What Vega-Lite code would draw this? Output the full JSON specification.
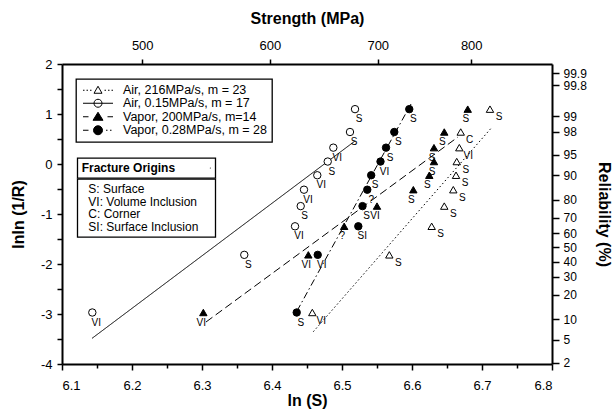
{
  "$schema": "https://vega.github.io/schema/vega-lite/v6.json",
  "width": 490,
  "height": 300,
  "autosize": "none",
  "padding": {"left": 62, "top": 64, "right": 62, "bottom": 47},
  "background": "white",
  "datasets": {
    "pts": [
      {"series": "Air, 216MPa/s, m = 23", "lnS": 6.7114, "lnln": 1.097, "origin": "S"},
      {"series": "Air, 216MPa/s, m = 23", "lnS": 6.6696, "lnln": 0.640, "origin": "C"},
      {"series": "Air, 216MPa/s, m = 23", "lnS": 6.6676, "lnln": 0.327, "origin": "VI"},
      {"series": "Air, 216MPa/s, m = 23", "lnS": 6.6639, "lnln": 0.049, "origin": "S"},
      {"series": "Air, 216MPa/s, m = 23", "lnS": 6.6629, "lnln": -0.225, "origin": "S"},
      {"series": "Air, 216MPa/s, m = 23", "lnS": 6.6590, "lnln": -0.514, "origin": "S"},
      {"series": "Air, 216MPa/s, m = 23", "lnS": 6.6461, "lnln": -0.842, "origin": "S"},
      {"series": "Air, 216MPa/s, m = 23", "lnS": 6.6281, "lnln": -1.246, "origin": "S"},
      {"series": "Air, 216MPa/s, m = 23", "lnS": 6.5676, "lnln": -1.817, "origin": "S"},
      {"series": "Air, 216MPa/s, m = 23", "lnS": 6.4576, "lnln": -2.970, "origin": "VI"},
      {"series": "Air, 0.15MPa/s, m = 17", "lnS": 6.5186, "lnln": 1.097, "origin": "S"},
      {"series": "Air, 0.15MPa/s, m = 17", "lnS": 6.5114, "lnln": 0.640, "origin": "S"},
      {"series": "Air, 0.15MPa/s, m = 17", "lnS": 6.4876, "lnln": 0.327, "origin": "VI"},
      {"series": "Air, 0.15MPa/s, m = 17", "lnS": 6.4796, "lnln": 0.049, "origin": "S"},
      {"series": "Air, 0.15MPa/s, m = 17", "lnS": 6.4647, "lnln": -0.225, "origin": "VI"},
      {"series": "Air, 0.15MPa/s, m = 17", "lnS": 6.4457, "lnln": -0.514, "origin": "VI"},
      {"series": "Air, 0.15MPa/s, m = 17", "lnS": 6.4410, "lnln": -0.842, "origin": "S"},
      {"series": "Air, 0.15MPa/s, m = 17", "lnS": 6.4329, "lnln": -1.246, "origin": "VI"},
      {"series": "Air, 0.15MPa/s, m = 17", "lnS": 6.3604, "lnln": -1.817, "origin": "S"},
      {"series": "Air, 0.15MPa/s, m = 17", "lnS": 6.1433, "lnln": -2.970, "origin": "VI"},
      {"series": "Vapor, 200MPa/s, m=14", "lnS": 6.6796, "lnln": 1.097, "origin": "S"},
      {"series": "Vapor, 200MPa/s, m=14", "lnS": 6.6461, "lnln": 0.640, "origin": "S"},
      {"series": "Vapor, 200MPa/s, m=14", "lnS": 6.6314, "lnln": 0.327, "origin": "S"},
      {"series": "Vapor, 200MPa/s, m=14", "lnS": 6.6314, "lnln": 0.049, "origin": "S"},
      {"series": "Vapor, 200MPa/s, m=14", "lnS": 6.6247, "lnln": -0.225, "origin": "S"},
      {"series": "Vapor, 200MPa/s, m=14", "lnS": 6.6019, "lnln": -0.514, "origin": "S"},
      {"series": "Vapor, 200MPa/s, m=14", "lnS": 6.5500, "lnln": -0.842, "origin": "VI"},
      {"series": "Vapor, 200MPa/s, m=14", "lnS": 6.5031, "lnln": -1.246, "origin": "?"},
      {"series": "Vapor, 200MPa/s, m=14", "lnS": 6.4519, "lnln": -1.817, "origin": "VI"},
      {"series": "Vapor, 200MPa/s, m=14", "lnS": 6.3019, "lnln": -2.970, "origin": "VI"},
      {"series": "Vapor, 0.28MPa/s, m = 28", "lnS": 6.5961, "lnln": 1.097, "origin": "S"},
      {"series": "Vapor, 0.28MPa/s, m = 28", "lnS": 6.5747, "lnln": 0.640, "origin": "S"},
      {"series": "Vapor, 0.28MPa/s, m = 28", "lnS": 6.5629, "lnln": 0.327, "origin": "S"},
      {"series": "Vapor, 0.28MPa/s, m = 28", "lnS": 6.5550, "lnln": 0.049, "origin": "VI"},
      {"series": "Vapor, 0.28MPa/s, m = 28", "lnS": 6.5417, "lnln": -0.225, "origin": "S"},
      {"series": "Vapor, 0.28MPa/s, m = 28", "lnS": 6.5361, "lnln": -0.514, "origin": "?"},
      {"series": "Vapor, 0.28MPa/s, m = 28", "lnS": 6.5293, "lnln": -0.842, "origin": "S"},
      {"series": "Vapor, 0.28MPa/s, m = 28", "lnS": 6.5233, "lnln": -1.246, "origin": "SI"},
      {"series": "Vapor, 0.28MPa/s, m = 28", "lnS": 6.4653, "lnln": -1.817, "origin": "VI"},
      {"series": "Vapor, 0.28MPa/s, m = 28", "lnS": 6.4353, "lnln": -2.970, "origin": "S"}
    ],
    "fits": [
      {"series": "Air, 216MPa/s, m = 23", "lnS": 6.4590, "lnln": -3.354},
      {"series": "Air, 216MPa/s, m = 23", "lnS": 6.7129, "lnln": 0.714},
      {"series": "Air, 0.15MPa/s, m = 17", "lnS": 6.1429, "lnln": -3.487},
      {"series": "Air, 0.15MPa/s, m = 17", "lnS": 6.5186, "lnln": 0.46},
      {"series": "Vapor, 200MPa/s, m=14", "lnS": 6.3057, "lnln": -3.16},
      {"series": "Vapor, 200MPa/s, m=14", "lnS": 6.6657, "lnln": 0.54},
      {"series": "Vapor, 0.28MPa/s, m = 28", "lnS": 6.4357, "lnln": -2.94},
      {"series": "Vapor, 0.28MPa/s, m = 28", "lnS": 6.5986, "lnln": 1.2}
    ]
  },
  "layer": [
    {
      "data": {"name": "fits"},
      "mark": {"type": "line", "color": "black", "strokeWidth": 1},
      "encoding": {
        "x": {
          "field": "lnS", "type": "quantitative",
          "scale": {"domain": [6.1, 6.8], "nice": false, "zero": false},
          "axis": {
            "orient": "top", "title": "Strength (MPa)",
            "values": [6.21461, 6.39693, 6.55108, 6.68461],
            "labelExpr": "format(exp(datum.value), '.0f')",
            "tickSize": 5, "labelPadding": 7, "titlePadding": 13
          }
        },
        "y": {
          "field": "lnln", "type": "quantitative",
          "scale": {"domain": [-4, 2], "nice": false, "zero": false},
          "axis": {
            "orient": "right", "title": "Reliability (%)", "titleAngle": 90,
            "values": [-3.9785, -3.5182, -3.1091, -2.6136, -2.2565, -1.9512, -1.666, -1.3808, -1.0755, -0.7184, -0.2229, 0.1862, 0.6465, 0.9534, 1.5749, 1.8136],
            "labelExpr": "format(100 * cumulativeNormal((datum.value + 1.666) / 1.126), '.3~r')",
            "labelOverlap": false, "labelFontSize": 12,
            "tickSize": 7, "labelPadding": 4, "titlePadding": 9
          }
        },
        "detail": {"field": "series"},
        "strokeDash": {
          "field": "series", "type": "nominal",
          "scale": {"range": [[1, 0], [1.5, 2.5], [7, 3, 1.5, 3], [8, 4]]},
          "legend": null
        }
      }
    },
    {
      "data": {"name": "pts"},
      "mark": {"type": "point", "stroke": "black", "strokeWidth": 1, "size": 0, "opacity": 0},
      "encoding": {
        "x": {"field": "lnS", "type": "quantitative", "scale": {"domain": [6.1, 6.8], "nice": false, "zero": false}, "axis": null},
        "y": {"field": "lnln", "type": "quantitative", "scale": {"domain": [-4, 2], "nice": false, "zero": false}, "axis": null},
        "shape": {
          "field": "series", "type": "nominal",
          "scale": {
            "domain": ["Air, 216MPa/s, m = 23", "Air, 0.15MPa/s, m = 17", "Vapor, 200MPa/s, m=14", "Vapor, 0.28MPa/s, m = 28"],
            "range": [
              "M-15,0h1.5M-11.5,0h1.5M-8,0h1.5M6.5,0h1.5M10,0h1.5M13.5,0h1.5M-4,3L4,3L0,-4Z",
              "M-15,0H15M-4,0A4 4 0 1 1 4,0A4 4 0 1 1 -4,0Z",
              "M-15,0H-9.5M9.5,0H15M-5,3.5L5,3.5L0,-4.5Z",
              "M-15,0H-9.5M8,0h1.5M12,0h1.5M-4.5,0A4.5 4.5 0 1 1 4.5,0A4.5 4.5 0 1 1 -4.5,0Z"
            ]
          },
          "legend": {
            "orient": "none", "legendX": 14, "legendY": 15, "title": null,
            "strokeColor": "black", "fillColor": "white", "padding": 5,
            "labelFont": "Liberation Sans", "labelFontSize": 12.5, "labelColor": "black",
            "symbolSize": 4, "symbolStrokeWidth": 1, "symbolOpacity": 1,
            "symbolOffset": 10.75, "labelOffset": 18.75, "rowPadding": -0.5,
            "labelExpr": "datum.label + '    '"
          }
        },
        "fill": {
          "field": "series", "type": "nominal",
          "scale": {
            "domain": ["Air, 216MPa/s, m = 23", "Air, 0.15MPa/s, m = 17", "Vapor, 200MPa/s, m=14", "Vapor, 0.28MPa/s, m = 28"],
            "range": ["white", "white", "black", "black"]
          },
          "legend": {
            "orient": "none", "legendX": 14, "legendY": 15, "title": null,
            "strokeColor": "black", "fillColor": "white", "padding": 5,
            "labelFont": "Liberation Sans", "labelFontSize": 12.5, "labelColor": "black",
            "symbolSize": 4, "symbolStrokeWidth": 1, "symbolOpacity": 1,
            "symbolOffset": 10.75, "labelOffset": 18.75, "rowPadding": -0.5,
            "labelExpr": "datum.label + '    '"
          }
        }
      }
    },
    {
      "data": {"name": "pts"},
      "transform": [{"filter": "datum.series === 'Air, 216MPa/s, m = 23' || datum.series === 'Vapor, 200MPa/s, m=14'"}],
      "mark": {"type": "point", "shape": "triangle-up", "stroke": "black", "strokeWidth": 1, "size": 55, "opacity": 1},
      "encoding": {
        "x": {
          "field": "lnS", "type": "quantitative",
          "scale": {"domain": [6.1, 6.8], "nice": false, "zero": false},
          "axis": {
            "orient": "bottom", "title": "ln (S)",
            "values": [6.1, 6.15, 6.2, 6.25, 6.3, 6.35, 6.4, 6.45, 6.5, 6.55, 6.6, 6.65, 6.7, 6.75, 6.8],
            "labelExpr": "abs(datum.value * 10 - round(datum.value * 10)) < 0.01 ? format(datum.value, '.1f') : ''",
            "tickSize": {"condition": {"test": "abs(datum.value * 10 - round(datum.value * 10)) < 0.01", "value": 6}, "value": 4},
            "labelPadding": 9, "titlePadding": 0
          }
        },
        "y": {
          "field": "lnln", "type": "quantitative",
          "scale": {"domain": [-4, 2], "nice": false, "zero": false},
          "axis": {
            "orient": "left", "title": "lnln (1/R)",
            "values": [-4, -3.5, -3, -2.5, -2, -1.5, -1, -0.5, 0, 0.5, 1, 1.5, 2],
            "labelExpr": "abs(datum.value - round(datum.value)) < 0.01 ? '' + round(datum.value) : ''",
            "tickSize": 5, "labelPadding": 5, "titlePadding": 14
          }
        },
        "fill": {
          "condition": {"test": "datum.series === 'Vapor, 200MPa/s, m=14'", "value": "black"},
          "value": "white"
        }
      }
    },
    {
      "data": {"name": "pts"},
      "transform": [{"filter": "datum.series === 'Air, 0.15MPa/s, m = 17' || datum.series === 'Vapor, 0.28MPa/s, m = 28'"}],
      "mark": {"type": "point", "shape": "circle", "stroke": "black", "strokeWidth": 1, "size": 55, "opacity": 1},
      "encoding": {
        "x": {"field": "lnS", "type": "quantitative", "scale": {"domain": [6.1, 6.8], "nice": false, "zero": false}, "axis": null},
        "y": {"field": "lnln", "type": "quantitative", "scale": {"domain": [-4, 2], "nice": false, "zero": false}, "axis": null},
        "fill": {
          "condition": {"test": "datum.series === 'Vapor, 0.28MPa/s, m = 28'", "value": "black"},
          "value": "white"
        }
      }
    },
    {
      "data": {"name": "pts"},
      "transform": [{"filter": "datum.series === 'Air, 216MPa/s, m = 23'"}],
      "mark": {"type": "text", "font": "Liberation Sans", "fontSize": 10, "align": "center", "baseline": "middle", "dx": 9, "dy": 8},
      "encoding": {
        "x": {"field": "lnS", "type": "quantitative", "scale": {"domain": [6.1, 6.8], "nice": false, "zero": false}, "axis": null},
        "y": {"field": "lnln", "type": "quantitative", "scale": {"domain": [-4, 2], "nice": false, "zero": false}, "axis": null},
        "text": {"field": "origin"},
        "opacity": {
          "datum": "Fracture Origins", "type": "ordinal",
          "scale": {"range": [1]},
          "legend": {
            "orient": "none", "legendX": 15.3, "legendY": 94, "title": null,
            "strokeColor": "black", "fillColor": "white", "padding": 4,
            "labelFont": "Liberation Sans", "labelFontSize": 12, "labelFontWeight": "bold", "labelColor": "black",
            "symbolSize": 1, "symbolOpacity": 0, "symbolStrokeWidth": 0, "symbolOffset": 123, "labelOffset": -134.6
          }
        },
        "color": {
          "field": "origin", "type": "nominal",
          "scale": {"domain": ["S", "VI", "C", "SI", "?"], "range": ["black", "black", "black", "black", "black"]},
          "legend": {
            "orient": "none", "legendX": 15.3, "legendY": 115, "title": null,
            "strokeColor": "black", "fillColor": "white", "padding": 4,
            "labelFont": "Liberation Sans", "labelFontSize": 12, "labelColor": "black",
            "symbolSize": 1, "symbolOpacity": 0, "symbolStrokeWidth": 0, "symbolOffset": 123, "labelOffset": -128, "rowPadding": 0.5,
            "values": ["S", "VI", "C", "SI"],
            "labelExpr": "datum.value === 'S' ? 'S:  Surface' : datum.value === 'VI' ? 'VI: Volume Inclusion' : datum.value === 'C' ? 'C:  Corner' : 'SI: Surface Inclusion'"
          }
        }
      }
    },
    {
      "data": {"name": "pts"},
      "transform": [{"filter": "datum.series === 'Vapor, 200MPa/s, m=14'"}],
      "mark": {"type": "text", "font": "Liberation Sans", "fontSize": 10, "align": "center", "baseline": "middle", "dx": -2, "dy": 10},
      "encoding": {
        "x": {"field": "lnS", "type": "quantitative", "scale": {"domain": [6.1, 6.8], "nice": false, "zero": false}, "axis": null},
        "y": {"field": "lnln", "type": "quantitative", "scale": {"domain": [-4, 2], "nice": false, "zero": false}, "axis": null},
        "text": {"field": "origin"},
        "color": {
          "field": "origin", "type": "nominal",
          "scale": {"domain": ["S", "VI", "C", "SI", "?"], "range": ["black", "black", "black", "black", "black"]},
          "legend": {
            "orient": "none", "legendX": 15.3, "legendY": 115, "title": null,
            "strokeColor": "black", "fillColor": "white", "padding": 4,
            "labelFont": "Liberation Sans", "labelFontSize": 12, "labelColor": "black",
            "symbolSize": 1, "symbolOpacity": 0, "symbolStrokeWidth": 0, "symbolOffset": 123, "labelOffset": -128, "rowPadding": 0.5,
            "values": ["S", "VI", "C", "SI"],
            "labelExpr": "datum.value === 'S' ? 'S:  Surface' : datum.value === 'VI' ? 'VI: Volume Inclusion' : datum.value === 'C' ? 'C:  Corner' : 'SI: Surface Inclusion'"
          }
        }
      }
    },
    {
      "data": {"name": "pts"},
      "transform": [{"filter": "datum.series === 'Air, 0.15MPa/s, m = 17' || datum.series === 'Vapor, 0.28MPa/s, m = 28'"}],
      "mark": {"type": "text", "font": "Liberation Sans", "fontSize": 10, "align": "center", "baseline": "middle", "dx": 4, "dy": 10},
      "encoding": {
        "x": {"field": "lnS", "type": "quantitative", "scale": {"domain": [6.1, 6.8], "nice": false, "zero": false}, "axis": null},
        "y": {"field": "lnln", "type": "quantitative", "scale": {"domain": [-4, 2], "nice": false, "zero": false}, "axis": null},
        "text": {"field": "origin"},
        "color": {
          "field": "origin", "type": "nominal",
          "scale": {"domain": ["S", "VI", "C", "SI", "?"], "range": ["black", "black", "black", "black", "black"]},
          "legend": {
            "orient": "none", "legendX": 15.3, "legendY": 115, "title": null,
            "strokeColor": "black", "fillColor": "white", "padding": 4,
            "labelFont": "Liberation Sans", "labelFontSize": 12, "labelColor": "black",
            "symbolSize": 1, "symbolOpacity": 0, "symbolStrokeWidth": 0, "symbolOffset": 123, "labelOffset": -128, "rowPadding": 0.5,
            "values": ["S", "VI", "C", "SI"],
            "labelExpr": "datum.value === 'S' ? 'S:  Surface' : datum.value === 'VI' ? 'VI: Volume Inclusion' : datum.value === 'C' ? 'C:  Corner' : 'SI: Surface Inclusion'"
          }
        }
      }
    }
  ],
  "resolve": {"axis": {"x": "independent", "y": "independent"}},
  "config": {
    "view": {"stroke": null},
    "axis": {
      "domainColor": "black", "domainWidth": 2, "tickColor": "black", "tickWidth": 1.5,
      "labelColor": "black", "labelFont": "Liberation Sans", "labelFontSize": 13,
      "titleFont": "Liberation Sans", "titleFontSize": 16, "titleFontWeight": "bold", "titleColor": "black",
      "grid": false
    },
    "legend": {"strokeWidth": 1.3}
  }
}
